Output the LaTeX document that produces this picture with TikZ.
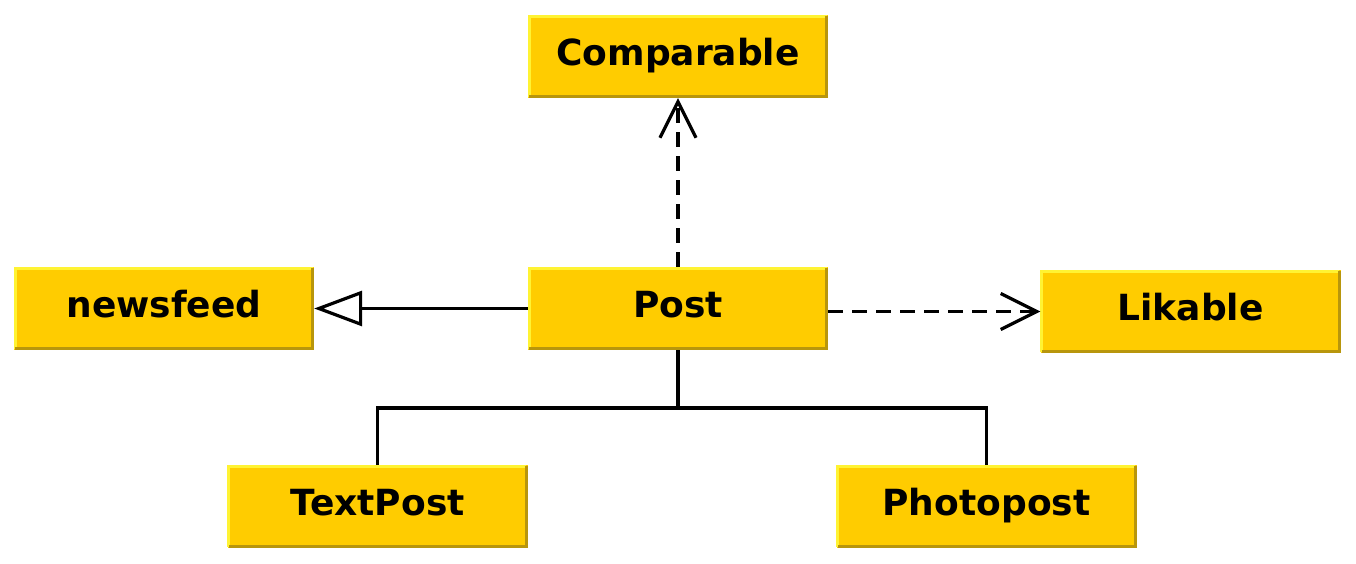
\documentclass[tikz,border=0pt]{standalone}
\usepackage{fontspec}
\setmainfont{DejaVu Sans}
\usetikzlibrary{arrows.meta}
\definecolor{boxfill}{HTML}{FFCC00}
\definecolor{boxlight}{HTML}{FFF333}
\definecolor{boxdark}{HTML}{B8960C}
\tikzset{
  classbox/.style={fill=boxfill, minimum width=300pt, minimum height=83pt, inner sep=0pt,
    text height=26pt, text depth=8pt,
    font=\fontsize{36}{40}\selectfont\bfseries, text=black},
  conn/.style={line width=3.2pt, black},
  dep/.style={conn, dash pattern=on 15pt off 9pt, -{Straight Barb[length=36pt,width=36pt,line width=3.2pt]}},
  inh/.style={conn, -{Triangle[length=48pt,width=35pt,fill=white,line width=3.2pt]}},
}
\begin{document}
\begin{tikzpicture}[x=1pt,y=-1pt]
\useasboundingbox (0,0) rectangle (1356,564);
\node[classbox] (comp) at (678,56.5) {Comparable};
\node[classbox] (news) at (164,308.5) {newsfeed};
\node[classbox] (post) at (678,308.5) {Post};
\node[classbox] (like) at (1190.5,311.5) {Likable};
\node[classbox] (text) at (377.5,506.5) {TextPost};
\node[classbox] (photo) at (986.5,506.5) {Photopost};
\foreach \n in {comp,news,post,like,text,photo}{
  \draw[boxlight, line width=3pt] ([shift={(1.5,-1.5)}]\n.south west) -- ([shift={(1.5,1.5)}]\n.north west) -- ([shift={(-1.5,1.5)}]\n.north east);
  \draw[boxdark, line width=3pt] ([shift={(-1.5,1.5)}]\n.north east) -- ([shift={(-1.5,-1.5)}]\n.south east) -- ([shift={(1.5,-1.5)}]\n.south west);
}
\coordinate (junction) at (678,408);
\draw[dep] (post.north) -- (comp.south);
\draw[inh] (post.west) -- (news.east);
\draw[dep] (post.east |- like.west) -- (like.west);
\draw[conn] (post.south) -- (junction) -| (text.north);
\draw[conn] (junction) -| (photo.north);
\end{tikzpicture}
\end{document}
